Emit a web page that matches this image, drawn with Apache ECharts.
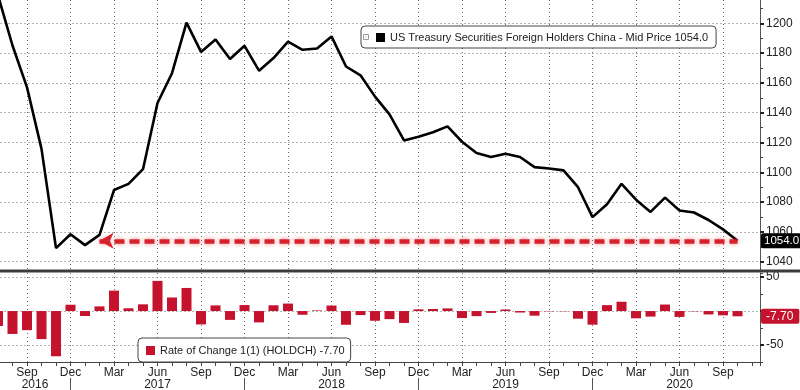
<!DOCTYPE html>
<html><head><meta charset="utf-8">
<script src="https://cdn.jsdelivr.net/npm/echarts@6/dist/echarts.min.js"></script>
<style>html,body{margin:0;padding:0;background:#fff}#c{width:800px;height:390px}</style>
</head><body><div id="c"></div>
<script>
// ---- data ----
const months = [
  'Jul 2016','Aug 2016','Sep 2016','Oct 2016','Nov 2016','Dec 2016',
  'Jan 2017','Feb 2017','Mar 2017','Apr 2017','May 2017','Jun 2017','Jul 2017','Aug 2017','Sep 2017','Oct 2017','Nov 2017','Dec 2017',
  'Jan 2018','Feb 2018','Mar 2018','Apr 2018','May 2018','Jun 2018','Jul 2018','Aug 2018','Sep 2018','Oct 2018','Nov 2018','Dec 2018',
  'Jan 2019','Feb 2019','Mar 2019','Apr 2019','May 2019','Jun 2019','Jul 2019','Aug 2019','Sep 2019','Oct 2019','Nov 2019','Dec 2019',
  'Jan 2020','Feb 2020','Mar 2020','Apr 2020','May 2020','Jun 2020','Jul 2020','Aug 2020','Sep 2020','Oct 2020'
];
const holdings = [
  1218.8, 1185.1, 1157.0, 1115.7, 1049.1, 1058.4,
  1051.1, 1058.0, 1088.1, 1092.2, 1102.1, 1146.5, 1166.5, 1200.5, 1180.8, 1189.1, 1176.1, 1184.9,
  1168.2, 1176.7, 1187.7, 1182.2, 1183.1, 1191.2, 1171.0, 1165.1, 1150.8, 1138.9, 1121.4, 1123.9,
  1126.9, 1130.8, 1120.5, 1113.0, 1110.2, 1112.5, 1110.3, 1103.5, 1102.5, 1101.3, 1090.0, 1069.9,
  1078.6, 1092.3, 1081.6, 1073.4, 1083.0, 1074.4, 1073.0, 1068.0, 1061.7, 1054.0
];
const rateOfChange = [
  -22.0, -33.7, -28.1, -41.3, -66.6, 9.3,
  -7.3, 6.9, 30.1, 4.1, 9.9, 44.4, 20.0, 34.0, -19.7, 8.3, -13.0, 8.8,
  -16.7, 8.5, 11.0, -5.5, 0.9, 8.1, -20.2, -5.9, -14.3, -11.9, -17.5, 2.5,
  3.0, 3.9, -10.3, -7.5, -2.8, 2.3, -2.2, -6.8, -0.5, -0.4, -11.3, -20.1,
  8.7, 13.7, -10.7, -8.2, 9.6, -8.6, -0.5, -5.0, -6.3, -7.7
];
const quarterMonths = ['Mar', 'Jun', 'Sep', 'Dec'];
const yearLabelMonth = 'Jun';
const topTicks = [1040, 1220, 20];      // min, max, step
const bottomTicks = [-75, 56, 25];      // min, max, step
const bottomLabelTicks = [-50, 50, 50]; // min, max, step
const lineName = 'US Treasury Securities Foreign Holders China';
const barName = 'Rate of Change 1(1) (HOLDCH)';
const arrowFromMonth = 'Feb 2017';

// ---- helpers ----
const AX = "'Liberation Sans Narrow','Liberation Sans',Arial,sans-serif";
const LG = "'Liberation Sans',Arial,sans-serif";
const dec0 = months.indexOf('Dec 2016');
const tOf = i => i - dec0;
const xMin = -12, xMax = 47.55;
const GL = -103.5, GR = 40;
const lastIdx = months.length - 1;
const lastVal = holdings[lastIdx];
const lastRoc = rateOfChange[lastIdx];
const dots = () => ({ show: true, lineStyle: { type: [1, 3], color: '#6a6a6a', width: 1, opacity: 1 } });
const firstLabelIdx = months.findIndex(m => quarterMonths.includes(m.split(' ')[0]));

function quarterLabel(v) {
  if (!Number.isInteger(v)) return '';
  const i = v + dec0;
  if (i < 0 || i >= months.length) return '';
  const [m, y] = months[i].split(' ');
  if (!quarterMonths.includes(m)) return '';
  if (m === yearLabelMonth) return m + '\n' + y;
  if (i === firstLabelIdx) return m + '\n{y0|' + y + '}';
  return m;
}

const chart = echarts.init(document.getElementById('c'), null, { renderer: 'canvas' });
const gridBase = { containLabel: false, outerBoundsMode: 'none' };
const hidden = { color: 'rgba(0,0,0,0)', width: 1, type: 'solid' };
const option = {
  animation: false,
  backgroundColor: '#fff',
  grid: [
    Object.assign({ left: GL, right: GR, top: -6.5, bottom: 128.3 }, gridBase),
    Object.assign({ left: GL, right: GR, top: 0, bottom: 120.5 }, gridBase),
    Object.assign({ left: GL, right: GR, top: 273, bottom: 28 }, gridBase),
    Object.assign({ left: GL, right: GR, top: 277, bottom: 45 }, gridBase),
    Object.assign({ left: GL, right: 800 - (70.5 + 36 * 14.5), top: 377, bottom: 12 }, gridBase)
  ],
  xAxis: [
    { gridIndex: 0, type: 'value', min: xMin, max: xMax, show: false },
    { gridIndex: 1, type: 'value', min: xMin, max: xMax, interval: 3,
      axisLine: { show: false, onZero: false }, axisTick: { show: false }, axisLabel: { show: false },
      splitLine: dots() },
    { gridIndex: 2, type: 'value', min: xMin, max: xMax, interval: 3, position: 'bottom',
      axisLine: { show: true, onZero: false, lineStyle: { color: '#444', width: 1 } },
      axisTick: { show: false },
      axisLabel: { formatter: quarterLabel, margin: 5, fontSize: 12, fontFamily: AX, color: '#222', lineHeight: 12,
        rich: { y0: { padding: [0, 0, 0, 16], fontSize: 12, fontFamily: AX, color: '#222', lineHeight: 12 } } },
      splitLine: dots() },
    { gridIndex: 2, type: 'value', min: xMin, max: xMax, interval: 1, position: 'bottom',
      axisLine: { show: false, onZero: false }, axisTick: { show: true, length: 4, lineStyle: { color: '#444' } },
      axisLabel: { show: false }, splitLine: { show: false } },
    { gridIndex: 3, type: 'value', min: xMin, max: xMax, show: false },
    { gridIndex: 4, type: 'value', min: -12, max: 36, interval: 12, position: 'bottom',
      axisLine: { show: false, onZero: false }, axisTick: { show: true, length: 12, lineStyle: { color: '#555' } },
      axisLabel: { show: false }, splitLine: { show: false } }
  ],
  yAxis: [
    { gridIndex: 0, type: 'value', position: 'right', min: topTicks[0], max: topTicks[1], interval: topTicks[2],
      axisLine: { show: false, onZero: false },
      axisTick: { show: true, length: 4, lineStyle: { color: '#222', width: 2 } },
      minorTick: { show: true, splitNumber: 2, length: 3, lineStyle: { color: '#444' } },
      axisLabel: { margin: 6, fontSize: 12, fontFamily: AX, color: '#222', formatter: v => v >= topTicks[1] ? '' : String(v) },
      splitLine: dots() },
    { gridIndex: 1, type: 'value', position: 'right', min: 0, max: 1,
      axisLine: { show: true, onZero: false, lineStyle: { color: '#555', width: 1 } },
      axisTick: { show: false }, axisLabel: { show: false }, splitLine: { show: false } },
    { gridIndex: 2, type: 'value', position: 'right', min: bottomTicks[0], max: bottomTicks[1], interval: bottomTicks[2],
      axisLine: { show: true, onZero: false, lineStyle: { color: '#555', width: 1 } },
      axisTick: { show: true, length: 3, lineStyle: { color: '#444' } },
      axisLabel: { show: false }, splitLine: { show: false } },
    { gridIndex: 3, type: 'value', position: 'right', min: bottomLabelTicks[0], max: bottomLabelTicks[1], interval: bottomLabelTicks[2],
      axisLine: { show: false, onZero: false },
      axisTick: { show: true, length: 4, lineStyle: { color: '#222', width: 2 } },
      axisLabel: { margin: 6, fontSize: 12, fontFamily: AX, color: '#222', formatter: v => v === 0 ? '' : String(v) },
      splitLine: dots() },
    { gridIndex: 4, type: 'value', min: 0, max: 1, show: false }
  ],
  legend: [
    { data: [lineName], left: 361, top: 26, icon: 'rect', itemWidth: 9, itemHeight: 9, selectedMode: false,
      padding: [6, 8, 5, 15], backgroundColor: '#fff', borderColor: '#444', borderWidth: 1, borderRadius: 4,
      textStyle: { fontSize: 11, fontFamily: LG, color: '#222' },
      formatter: n => n + ' - Mid Price ' + lastVal.toFixed(1) },
    { data: [barName], left: 138, top: 338, icon: 'rect', itemWidth: 9, itemHeight: 9, selectedMode: false,
      padding: [7, 6, 6, 8], backgroundColor: '#fff', borderColor: '#444', borderWidth: 1, borderRadius: 4,
      textStyle: { fontSize: 11, fontFamily: LG, color: '#222' },
      formatter: n => n + ' ' + lastRoc.toFixed(2) }
  ],
  graphic: [
    { type: 'rect', shape: { x: 0, y: 269.5, width: 800, height: 3 }, style: { fill: '#3c3c3c' }, z: 10 },
    { type: 'rect', shape: { x: 363.5, y: 34.5, width: 5, height: 5 }, style: { fill: '#fff', stroke: '#999', lineWidth: 1 }, z: 10 },
    { type: 'rect', shape: { x: 365.5, y: 36.5, width: 1, height: 1 }, style: { fill: '#999' }, z: 10 }
  ],
  series: [
    { name: lineName, type: 'line', xAxisIndex: 0, yAxisIndex: 0, symbol: 'none',
      data: holdings.map((v, i) => [tOf(i), v]),
      itemStyle: { color: '#000' },
      lineStyle: { color: '#000', width: 2.6 },
      markLine: {
        silent: true, animation: false,
        data: [
          [ { coord: [tOf(months.indexOf(arrowFromMonth)), lastVal], symbol: 'arrow', symbolSize: [12, 14] },
            { coord: [tOf(lastIdx), lastVal], symbol: 'none' } ],
          { yAxis: lastVal, symbol: 'none',
            lineStyle: hidden,
            label: { show: true, position: 'end', distance: 1, formatter: lastVal.toFixed(1),
              backgroundColor: '#000', color: '#fff', padding: [2, 2, 1, 3], borderRadius: 2,
              fontSize: 11.5, fontFamily: AX } }
        ],
        lineStyle: { color: '#d7222b', width: 4.5, type: [10, 5], shadowBlur: 5, shadowColor: 'rgba(230,60,70,0.55)' },
        label: { show: false }
      } },
    { name: barName, type: 'bar', xAxisIndex: 2, yAxisIndex: 2, barWidth: 10,
      data: rateOfChange.map((v, i) => [tOf(i), v]),
      itemStyle: { color: '#c5122d' },
      markLine: {
        silent: true, animation: false, symbol: 'none',
        data: [
          { yAxis: lastRoc, lineStyle: hidden,
            label: { show: true, position: 'end', distance: 1, formatter: lastRoc.toFixed(2),
              backgroundColor: '#c5122d', color: '#fff', padding: [2, 6, 1, 5], borderRadius: 2,
              fontSize: 12, fontFamily: AX } }
        ]
      } }
  ]
};
chart.setOption(option);
</script>
</body></html>
